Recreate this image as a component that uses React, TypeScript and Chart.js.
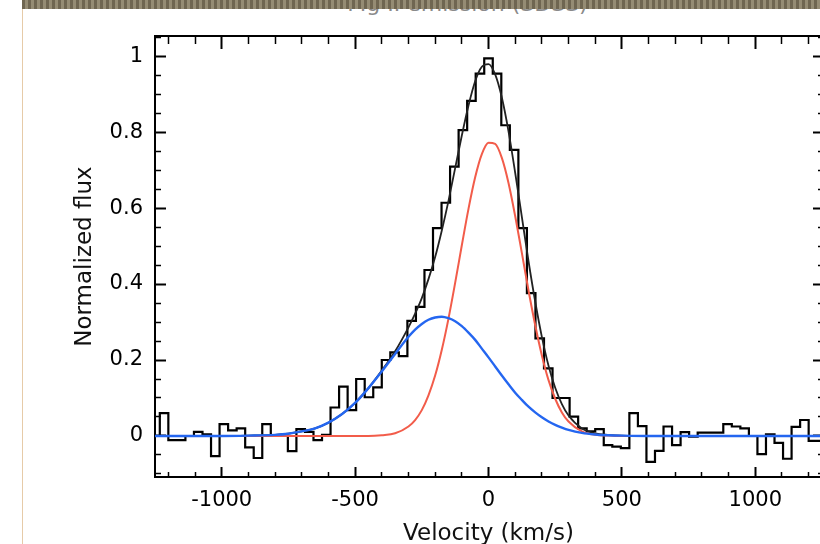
import React, { useEffect, useRef } from 'react';
import { Chart, registerables } from 'chart.js';

Chart.register(...registerables);

// ---- data ----
const binVelocity = [
  -1280, -1248, -1216, -1184, -1152, -1120, -1088, -1056, -1024, -992,
  -960, -928, -896, -864, -832, -800, -768, -736, -704, -672,
  -640, -608, -576, -544, -512, -480, -448, -416, -384, -352,
  -320, -288, -256, -224, -192, -160, -128, -96, -64, -32,
  0,
  32, 64, 96, 128, 160, 192, 224, 256, 288, 320,
  352, 384, 416, 448, 480, 512, 544, 576, 608, 640,
  672, 704, 736, 768, 800, 832, 864, 896, 928, 960,
  992, 1024, 1056, 1088, 1120, 1152, 1184, 1216, 1248, 1280,
];

const observedFlux = [
  0.0, 0.0, 0.06, -0.011, -0.011, 0.0, 0.011, 0.004, -0.053, 0.031,
  0.015, 0.02, -0.03, -0.058, 0.031, 0.0, 0.0, -0.04, 0.018, 0.011,
  -0.011, 0.003, 0.075, 0.13, 0.068, 0.15, 0.102, 0.128, 0.2, 0.22,
  0.21, 0.303, 0.34, 0.437, 0.547, 0.614, 0.709, 0.805, 0.882, 0.954,
  0.994,
  0.954, 0.818, 0.753, 0.547, 0.376, 0.257, 0.178, 0.1, 0.1, 0.051,
  0.02, 0.012, 0.018, -0.024, -0.028, -0.032, 0.06, 0.026, -0.068, -0.039,
  0.025, -0.024, 0.01, -0.002, 0.009, 0.009, 0.009, 0.031, 0.025, 0.02,
  0.0, -0.048, 0.004, -0.018, -0.06, 0.024, 0.042, -0.013, -0.013, -0.013,
];

const fitVelocity = [
  -1300, -1000, -900, -800, -750, -700, -650, -600, -550, -500,
  -450, -400, -350, -300, -275, -250, -225, -200, -175, -150,
  -125, -100, -75, -50, -25, 0, 25, 50, 75, 100,
  125, 150, 175, 200, 225, 250, 275, 300, 350, 400,
  450, 500, 600, 800, 1000, 1300,
];

const narrowComponent = [
  0, 0, 0, 0, 0, 0, 0, 0, 0, 0,
  0, 0.002, 0.007, 0.025, 0.042, 0.068, 0.107, 0.159, 0.227, 0.309,
  0.403, 0.502, 0.598, 0.681, 0.742, 0.772, 0.769, 0.732, 0.666, 0.579,
  0.482, 0.383, 0.292, 0.212, 0.147, 0.098, 0.062, 0.038, 0.012, 0.003,
  0.001, 0, 0, 0, 0, 0,
];

const broadComponent = [
  0, 0, 0.001, 0.003, 0.006, 0.012, 0.02, 0.035, 0.057, 0.087,
  0.126, 0.17, 0.216, 0.261, 0.28, 0.295, 0.306, 0.312, 0.314, 0.31,
  0.302, 0.289, 0.272, 0.253, 0.23, 0.207, 0.183, 0.159, 0.136, 0.114,
  0.095, 0.077, 0.062, 0.049, 0.038, 0.029, 0.022, 0.016, 0.008, 0.004,
  0.002, 0.001, 0, 0, 0, 0,
];

const totalFit = [
  0, 0, 0.001, 0.003, 0.006, 0.012, 0.02, 0.035, 0.057, 0.087,
  0.126, 0.172, 0.223, 0.286, 0.322, 0.363, 0.413, 0.471, 0.541, 0.619,
  0.705, 0.791, 0.87, 0.934, 0.972, 0.979, 0.952, 0.891, 0.802, 0.693,
  0.577, 0.46, 0.354, 0.261, 0.185, 0.127, 0.084, 0.054, 0.02, 0.007,
  0.003, 0.001, 0, 0, 0, 0,
];

// ---- axes ----
const X_MIN = -1250;
const X_MAX = 1250;
const Y_MIN = -0.108;
const Y_MAX = 1.053;
const xMajorTicks = [-1000, -500, 0, 500, 1000];
const xMinorTicks = [
  -1200, -1100, -900, -800, -700, -600, -400, -300, -200, -100,
  100, 200, 300, 400, 600, 700, 800, 900, 1100, 1200,
];
const yMajorTicks = [0, 0.2, 0.4, 0.6, 0.8, 1];
const yMajorLabels = ['0', '0.2', '0.4', '0.6', '0.8', '1'];
const yMinorTicks = [
  -0.1, -0.05, 0.05, 0.1, 0.15, 0.25, 0.3, 0.35, 0.45, 0.5,
  0.55, 0.65, 0.7, 0.75, 0.85, 0.9, 0.95, 1.05,
];

const xTitle = 'Velocity (km/s)';
const yTitle = 'Normalized flux';
const topTitle = 'Mg II emission (SDSS)';

const FONT = "'DejaVu Sans', sans-serif";

function pts(xs: number[], ys: number[]) {
  return xs.map((x, i) => ({ x, y: ys[i] }));
}

function setTicks(values: number[]) {
  return (scale: any) => {
    scale.ticks = values.map((value) => ({ value }));
  };
}

function tickAxis(
  position: string,
  values: number[],
  tickLength: number,
  horizontal: boolean,
  weight: number,
  major: boolean,
) {
  return {
    type: 'linear',
    position,
    min: horizontal ? X_MIN : Y_MIN,
    max: horizontal ? X_MAX : Y_MAX,
    weight,
    afterBuildTicks: setTicks(values),
    ticks: { autoSkip: false, display: false },
    grid: {
      drawOnChartArea: false,
      drawTicks: true,
      tickLength,
      tickWidth: major ? 2 : 1.5,
      tickColor: '#000',
    },
    border: major ? { display: true, width: 2, color: '#000' } : { display: false },
    afterFit: (s: any) => {
      if (horizontal) s.height = 0;
      else s.width = 0;
    },
  };
}

export default function App() {
  const ref = useRef<HTMLCanvasElement | null>(null);

  useEffect(() => {
    if (!ref.current) return;
    const tickFont = { family: FONT, size: 21 };
    const titleFont = { family: FONT, size: 23 };
    const chart = new Chart(ref.current, {
      type: 'line',
      data: {
        datasets: [
          {
            label: 'broad',
            data: pts(fitVelocity, broadComponent),
            borderColor: '#2466f0',
            borderWidth: 2.4,
            pointRadius: 0,
            cubicInterpolationMode: 'monotone',
            fill: false,
            order: 0,
          },
          {
            label: 'narrow',
            data: pts(fitVelocity, narrowComponent),
            borderColor: '#f25c4a',
            borderWidth: 2,
            pointRadius: 0,
            cubicInterpolationMode: 'monotone',
            fill: false,
            order: 1,
          },
          {
            label: 'fit',
            data: pts(fitVelocity, totalFit),
            borderColor: '#222',
            borderWidth: 1.8,
            pointRadius: 0,
            cubicInterpolationMode: 'monotone',
            fill: false,
            order: 2,
          },
          {
            label: 'data',
            data: pts(binVelocity, observedFlux),
            borderColor: '#000',
            borderWidth: 2.2,
            pointRadius: 0,
            stepped: 'middle',
            fill: false,
            order: 3,
          },
        ],
      },
      options: {
        animation: false,
        responsive: false,
        devicePixelRatio: 1,
        layout: { padding: { left: 0, top: 36, right: 8, bottom: 0 } },
        plugins: {
          legend: { display: false },
          tooltip: { enabled: false },
          title: { display: false },
        },
        scales: {
          x: {
            type: 'linear',
            position: 'bottom',
            min: X_MIN,
            max: X_MAX,
            weight: 0,
            afterBuildTicks: setTicks(xMajorTicks),
            ticks: {
              autoSkip: false,
              maxRotation: 0,
              padding: 21,
              font: tickFont,
              color: '#000',
              callback: (v: any) => String(v),
            },
            grid: { drawOnChartArea: false, drawTicks: true, tickLength: -10, tickWidth: 2, tickColor: '#000' },
            border: { display: true, width: 2, color: '#000' },
            title: { display: true, text: xTitle, font: titleFont, color: '#111', padding: { top: 0, bottom: 12 } },
            afterFit: (s: any) => {
              s.height = 83;
            },
          },
          xMinor: tickAxis('bottom', xMinorTicks, -5, true, -1, false),
          xTop: tickAxis('top', xMajorTicks, -13, true, 0, true),
          xTopMinor: tickAxis('top', xMinorTicks, -8, true, -1, false),
          y: {
            type: 'linear',
            position: 'left',
            min: Y_MIN,
            max: Y_MAX,
            weight: 0,
            afterBuildTicks: setTicks(yMajorTicks),
            ticks: {
              autoSkip: false,
              padding: 23,
              font: tickFont,
              color: '#000',
              callback: (_v: any, i: number) => yMajorLabels[i],
            },
            grid: { drawOnChartArea: false, drawTicks: true, tickLength: -11, tickWidth: 2, tickColor: '#000' },
            border: { display: true, width: 2, color: '#000' },
            title: { display: true, text: yTitle, font: titleFont, color: '#111', padding: { top: 71, bottom: 0 } },
            afterFit: (s: any) => {
              s.width = 155;
            },
          },
          yMinor: tickAxis('left', yMinorTicks, -6, false, -1, false),
          yRight: tickAxis('right', yMajorTicks, -9, false, 0, true),
          yRightMinor: tickAxis('right', yMinorTicks, -4, false, 1, false),
        },
      } as any,
    } as any);
    return () => chart.destroy();
  }, []);

  return (
    <div
      style={{
        position: 'fixed',
        left: 0,
        top: 0,
        width: 820,
        height: 544,
        overflow: 'hidden',
        background: '#fff',
      }}
    >
      <div
        style={{
          position: 'absolute',
          left: 290,
          top: -7,
          width: 355,
          textAlign: 'center',
          fontFamily: FONT,
          fontSize: 22,
          lineHeight: '22px',
          color: '#8a8a8a',
          whiteSpace: 'nowrap',
        }}
      >
        {topTitle}
      </div>
      <canvas ref={ref} width={830} height={560} style={{ position: 'absolute', left: 0, top: 0 }} />
      <div
        style={{
          position: 'absolute',
          left: 22,
          top: 0,
          width: 798,
          height: 9,
          background: 'repeating-linear-gradient(90deg, #6f6651 0px, #6f6651 3px, #958c74 3px, #958c74 6px)',
        }}
      />
      <div
        style={{
          position: 'absolute',
          left: 22,
          top: 9,
          width: 1,
          height: 535,
          background: '#e6cba8',
        }}
      />
    </div>
  );
}
